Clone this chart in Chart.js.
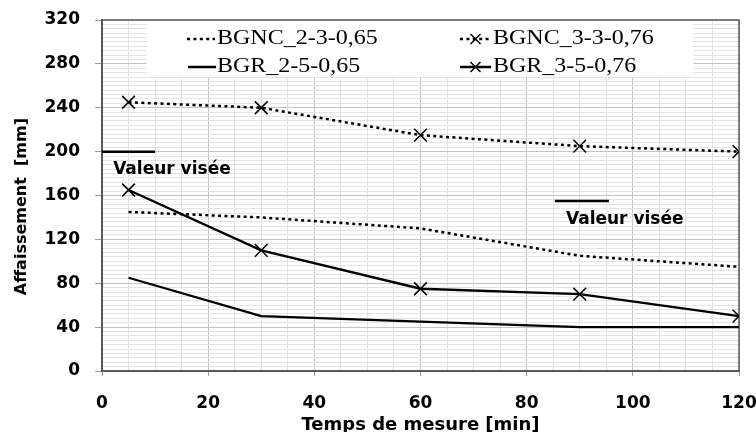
<!DOCTYPE html>
<html><head><meta charset="utf-8">
<script src="https://cdn.jsdelivr.net/npm/chart.js@4"></script>
<style>html,body{margin:0;padding:0;background:#fff}#wrap{width:756px;height:432px}</style>
</head><body><div id="wrap"><canvas id="c" width="756" height="432"></canvas></div>
<script>
// ---- data ----
const times = [5, 30, 60, 90, 120];
const bgnc_2_3_065 = [145, 140, 130, 105, 95];
const bgnc_3_3_076 = [245, 240, 215, 205, 200];
const bgr_2_5_065 = [85, 50, 45, 40, 40];
const bgr_3_5_076 = [165, 110, 75, 70, 50];
const seriesNames = ['BGNC_2-3-0,65', 'BGNC_3-3-0,76', 'BGR_2-5-0,65', 'BGR_3-5-0,76'];
const targetLabel = 'Valeur visée';
const target1X = [0, 10];
const target1Y = [200, 200];
const target2X = [85.3, 95.5];
const target2Y = [155, 155];
const xTickLabels = [0, 20, 40, 60, 80, 100, 120];
const yTickLabels = [0, 40, 80, 120, 160, 200, 240, 280, 320];
const xTitle = 'Temps de mesure [min]';
const yTitle = 'Affaissement  [mm]';

const pts = (xs, ys) => xs.map((x, i) => ({x: x, y: ys[i]}));
const BOLD = '"DejaVu Sans", sans-serif';
const SERIF = '"Liberation Serif", serif';
const DOT = [3, 3.4];

function drawX(ctx, x, y, r) {
  ctx.beginPath();
  ctx.moveTo(x - r, y - r); ctx.lineTo(x + r, y + r);
  ctx.moveTo(x - r, y + r); ctx.lineTo(x + r, y - r);
  ctx.stroke();
}
function stretchText(ctx, t, x, y, sx) {
  ctx.save();
  ctx.translate(x, y);
  ctx.scale(sx, 1);
  ctx.fillText(t, 0, 0);
  ctx.restore();
}

const overlay = {
  id: 'overlay',
  beforeDatasetsDraw(chart) {
    const ctx = chart.ctx, a = chart.chartArea;
    ctx.save();
    // legend box (white, covers grid)
    ctx.fillStyle = '#ffffff';
    ctx.fillRect(147, a.top + 1, 546, 56);
    // plot frame
    ctx.strokeStyle = '#595959';
    ctx.lineWidth = 1.5;
    ctx.strokeRect(a.left, a.top, a.right - a.left, a.bottom - a.top);
    // legend entries
    ctx.fillStyle = '#000';
    ctx.strokeStyle = '#000';
    ctx.font = '20px ' + SERIF;
    ctx.textBaseline = 'middle';
    ctx.textAlign = 'left';
    const r1 = 39, r2 = 67, c1 = 217, c2 = 493, sx = 1.2;
    // col1 row1 dotted
    ctx.lineWidth = 2.5; ctx.setLineDash(DOT);
    ctx.beginPath(); ctx.moveTo(187, r1); ctx.lineTo(215, r1); ctx.stroke();
    ctx.setLineDash([]);
    stretchText(ctx, seriesNames[0], c1, r1, sx);
    // col1 row2 solid
    ctx.beginPath(); ctx.moveTo(188, r2); ctx.lineTo(216, r2); ctx.stroke();
    stretchText(ctx, seriesNames[2], c1, r2, sx);
    // col2 row1 dotted + X
    ctx.setLineDash(DOT);
    ctx.beginPath(); ctx.moveTo(460, r1); ctx.lineTo(491, r1); ctx.stroke();
    ctx.setLineDash([]);
    ctx.lineWidth = 1.5; drawX(ctx, 475.5, r1, 5);
    stretchText(ctx, seriesNames[1], c2, r1, sx);
    // col2 row2 solid + X
    ctx.lineWidth = 2.5;
    ctx.beginPath(); ctx.moveTo(460, r2); ctx.lineTo(491, r2); ctx.stroke();
    ctx.lineWidth = 1.5; drawX(ctx, 475.5, r2, 5);
    stretchText(ctx, seriesNames[3], c2, r2, sx);
    ctx.restore();
  },
  afterDatasetsDraw(chart) {
    const ctx = chart.ctx, xs = chart.scales.x, ys = chart.scales.y;
    ctx.save();
    ctx.fillStyle = '#000';
    ctx.font = 'bold 17px ' + BOLD;
    ctx.textBaseline = 'middle';
    ctx.textAlign = 'left';
    ctx.fillText(targetLabel, xs.getPixelForValue(2.1), ys.getPixelForValue(184));
    ctx.fillText(targetLabel, xs.getPixelForValue(87.4), ys.getPixelForValue(138.5));
    ctx.restore();
  }
};

const lineBase = {borderColor: '#000', backgroundColor: '#000', fill: false, tension: 0,
  pointStyle: 'crossRot', pointBorderColor: '#000', pointBorderWidth: 1.5};

new Chart(document.getElementById('c'), {
  type: 'line',
  data: {
    datasets: [
      Object.assign({}, lineBase, {label: seriesNames[0], data: pts(times, bgnc_2_3_065), borderWidth: 2.5, borderDash: DOT, pointRadius: 0}),
      Object.assign({}, lineBase, {label: seriesNames[1], data: pts(times, bgnc_3_3_076), borderWidth: 2.5, borderDash: DOT, pointRadius: 9}),
      Object.assign({}, lineBase, {label: seriesNames[2], data: pts(times, bgr_2_5_065), borderWidth: 2.3, pointRadius: 0}),
      Object.assign({}, lineBase, {label: seriesNames[3], data: pts(times, bgr_3_5_076), borderWidth: 2.3, pointRadius: 9}),
      Object.assign({}, lineBase, {label: targetLabel, data: pts(target1X, target1Y), borderWidth: 2.5, pointRadius: 0}),
      Object.assign({}, lineBase, {label: targetLabel + ' ', data: pts(target2X, target2Y), borderWidth: 2.5, pointRadius: 0})
    ]
  },
  options: {
    responsive: false,
    animation: false,
    events: [],
    layout: {padding: {left: 0, right: 17, top: 20, bottom: 0}},
    plugins: {legend: {display: false}, tooltip: {enabled: false}},
    scales: {
      x: {
        type: 'linear', min: 0, max: 120,
        afterFit(s) { s.height = 61; s.paddingLeft = 0; s.paddingRight = 0; },
        border: {color: '#595959', width: 2},
        grid: {
          color: c => (c.tick && c.tick.value % 20 === 0) ? '#c4c4c4' : '#e2e2e2',
          lineWidth: 1,
          tickLength: 5,
          tickColor: c => (c.tick && c.tick.value % 20 === 0) ? '#999' : 'rgba(0,0,0,0)'
        },
        ticks: {
          stepSize: 5, autoSkip: false, maxRotation: 0, padding: 17,
          color: '#000', font: {family: BOLD, size: 17, weight: 'bold'},
          callback: v => xTickLabels.includes(v) ? String(v) : ''
        },
        title: {display: true, text: xTitle, color: '#000', font: {family: BOLD, size: 18, weight: 'bold'}, padding: {top: 0, bottom: -4}}
      },
      y: {
        type: 'linear', min: 0, max: 320,
        afterFit(s) { s.width = 102; s.paddingTop = 0; s.paddingBottom = 0; },
        border: {color: '#595959', width: 2},
        grid: {
          color: c => (c.tick && c.tick.value % 40 === 0) ? '#c4c4c4' : '#e4e4e4',
          lineWidth: 1,
          tickLength: 7,
          tickColor: c => (c.tick && c.tick.value % 40 === 0) ? '#999' : 'rgba(0,0,0,0)'
        },
        ticks: {
          stepSize: 4, autoSkip: false, padding: 15,
          color: '#000', font: {family: BOLD, size: 17, weight: 'bold'},
          callback: v => yTickLabels.includes(v) ? String(v) : ''
        },
        title: {display: true, text: yTitle + '    ', color: '#000', font: {family: BOLD, size: 16, weight: 'bold'}, padding: {top: 12, bottom: 0}}
      }
    }
  },
  plugins: [overlay]
});
</script>
</body></html>
